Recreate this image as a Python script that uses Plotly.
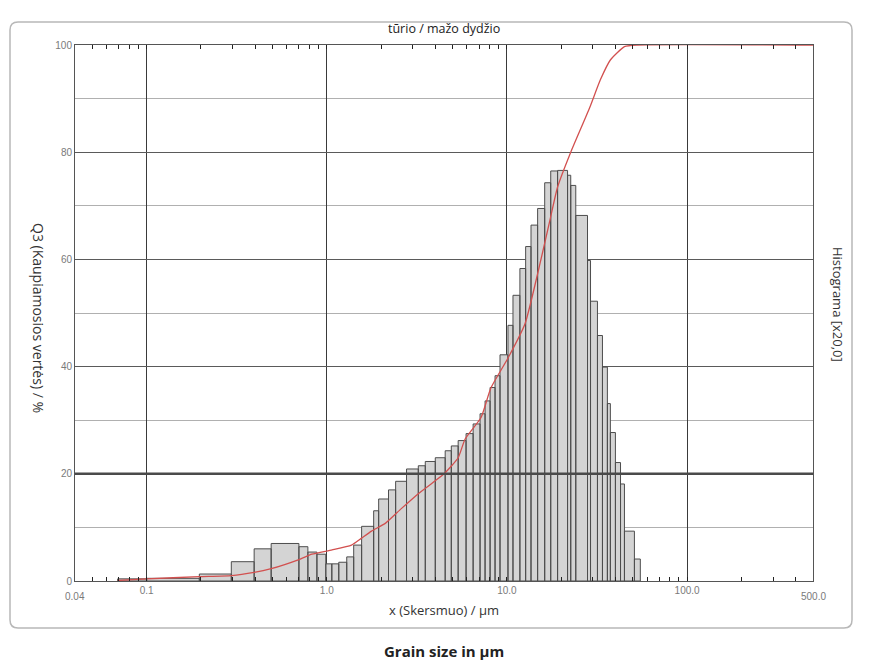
import math
import plotly.graph_objects as go

# ---------------- data ----------------
bin_edges = [0.069, 0.1, 0.196, 0.295, 0.395, 0.491, 0.700, 0.785, 0.881, 0.987,
             1.066, 1.165, 1.29, 1.41, 1.56, 1.82, 1.94, 2.20, 2.41, 2.77,
             3.22, 3.52, 4.00, 4.54, 4.91, 5.36, 5.93, 6.49, 7.09, 7.56,
             8.06, 8.59, 9.15, 10.13, 10.8, 11.8, 12.7, 13.6, 14.8, 16.2,
             17.5, 19.1, 21.7, 22.6, 24.1, 28.0, 29.1, 31.8, 33.9, 36.1,
             37.5, 40.0, 42.7, 44.9, 51.0, 55.0]
hist_values = [0.4, 0.5, 1.3, 3.6, 6.0, 7.0, 6.4, 5.4, 5.0, 3.2,
               3.2, 3.5, 4.5, 6.7, 10.2, 13.1, 15.3, 17.0, 18.6, 20.9,
               21.5, 22.3, 23.0, 24.3, 25.2, 26.2, 27.5, 29.3, 31.2, 33.6,
               36.1, 38.3, 42.2, 47.7, 53.3, 58.3, 62.4, 66.4, 69.5, 74.3,
               76.5, 76.6, 75.7, 73.8, 68.2, 59.8, 52.2, 45.8, 39.9, 33.1,
               27.7, 22.1, 18.1, 9.3, 4.1]

cum_size = [0.069, 0.1, 0.196, 0.295, 0.395, 0.491, 0.70, 0.826, 1.07, 1.37,
            1.56, 1.77, 2.12, 2.59, 3.22, 4.00, 4.54, 5.36, 5.86, 7.18,
            8.14, 10.1, 12.6, 15.4, 17.5, 19.1, 22.6, 28.7, 33.0, 37.5,
            44.9, 52.8, 500]
cum_q3 = [0.1, 0.4, 0.8, 1.0, 1.6, 2.3, 4.0, 5.0, 5.8, 6.7,
          8.0, 9.3, 10.8, 13.5, 16.3, 18.7, 20.2, 23.0, 26.5, 30.5,
          36.0, 41.5, 48.0, 59.8, 68.0, 73.5, 80.0, 88.2, 93.5, 97.2,
          99.7, 100, 100]

x_range = [0.04, 500]
x_tick_vals = [0.1, 1, 10, 100]
x_tick_text = ["0.1", "1.0", "10.0", "100.0"]
x_edge_labels = ["0.04", "500.0"]
y_range = [0, 100]
y_tick_vals = [0, 20, 40, 60, 80, 100]
y_tick_text = ["0", "20", "40", "60", "80", "100"]
highlight_y = 20

title_text = "tūrio / mažo dydžio"
x_title = "x (Skersmuo) / µm"
y_title_left = "Q3 (Kaupiamosios vertės) / %"
y_title_right = "Histograma [x20,0]"
caption = "<b>Grain size in µm</b>"

# ---------------- layout geometry ----------------
# The page body has an 8px default margin, so the figure is drawn 8px smaller
# and every screen position below is shifted by that offset.
OFF = 8
W, H = 869 - OFF, 664 - OFF
L, R, T, B = 75 - OFF, 813 - OFF, 45 - OFF, 581 - OFF


def px_x(p):
    """screen x (reference pixels) -> paper x"""
    return (p - OFF - L) / (R - L)


def px_y(p):
    """screen y (reference pixels) -> paper y"""
    return (B - (p - OFF)) / (B - T)


# ---------------- traces ----------------
hx, hy = [], []
for i, h in enumerate(hist_values):
    left, right = bin_edges[i], bin_edges[i + 1]
    hx += [left, left, right, right, left, None]
    hy += [0, h, h, 0, 0, None]

fig = go.Figure()
fig.add_trace(go.Scatter(
    x=hx, y=hy, mode="lines", fill="toself", fillcolor="#d4d4d4",
    line=dict(color="#4d4d4d", width=1), hoverinfo="skip", showlegend=False))
fig.add_trace(go.Scatter(
    x=cum_size, y=cum_q3, mode="lines",
    line=dict(color="#d2504f", width=1.3, shape="spline", smoothing=0.5),
    showlegend=False))

# ---------------- frame ----------------
x0, x1 = px_x(10), px_x(852)
top, bot = px_y(22), px_y(628)
rx, ry = 8 / (R - L), 8 / (B - T)
frame_path = (f"M {x0+rx},{top} L {x1-rx},{top} Q {x1},{top} {x1},{top-ry} "
              f"L {x1},{bot+ry} Q {x1},{bot} {x1-rx},{bot} L {x0+rx},{bot} "
              f"Q {x0},{bot} {x0},{bot+ry} L {x0},{top-ry} Q {x0},{top} {x0+rx},{top} Z")

shapes = [
    dict(type="path", path=frame_path, xref="paper", yref="paper",
         line=dict(color="#b8b8b8", width=1.5), layer="below"),
    dict(type="line", xref="paper", yref="y", x0=0, x1=1,
         y0=highlight_y, y1=highlight_y, line=dict(color="#4a4a4a", width=2.5),
         layer="above"),
]

tick_font = dict(family="Liberation Sans, Arial", size=10, color="#7a7a7a")
label_font = dict(family="Open Sans, Noto Sans", size=13, color="#333333")

annotations = [
    dict(text=title_text, xref="paper", yref="paper", x=0.5, y=px_y(29),
         showarrow=False, xanchor="center", yanchor="middle",
         font=dict(family="Open Sans, Noto Sans", size=12.5, color="#222222")),
    dict(text=x_title, xref="paper", yref="paper", x=0.5, y=px_y(610),
         showarrow=False, xanchor="center", yanchor="middle", font=label_font),
    dict(text=y_title_left, xref="paper", yref="paper", x=px_x(38), y=px_y(318),
         showarrow=False, textangle=90, xanchor="center", yanchor="middle",
         font=dict(family="Open Sans, Noto Sans", size=14, color="#333333")),
    dict(text=y_title_right, xref="paper", yref="paper", x=px_x(838), y=px_y(305),
         showarrow=False, textangle=90, xanchor="center", yanchor="middle",
         font=label_font),
    dict(text=caption, xref="paper", yref="paper", x=0.5, y=px_y(651),
         showarrow=False, xanchor="center", yanchor="middle",
         font=dict(family="Open Sans, Noto Sans", size=15, color="#222222")),
    dict(text=x_edge_labels[0], xref="x", yref="paper", x=math.log10(x_range[0]),
         y=px_y(596), showarrow=False, xanchor="center", yanchor="middle",
         font=tick_font),
    dict(text=x_edge_labels[1], xref="x", yref="paper", x=math.log10(x_range[1]),
         y=px_y(596), showarrow=False, xanchor="center", yanchor="middle",
         font=tick_font),
]

fig.update_layout(
    width=W, height=H, autosize=False,
    margin=dict(l=L, r=W - R, t=T, b=H - B, pad=0),
    paper_bgcolor="white", plot_bgcolor="white",
    shapes=shapes, annotations=annotations,
    xaxis=dict(
        type="log", range=[math.log10(x_range[0]), math.log10(x_range[1])],
        tickmode="array", tickvals=x_tick_vals, ticktext=x_tick_text,
        showgrid=True, gridcolor="#3a3a3a", gridwidth=1,
        showline=True, linecolor="#555555", linewidth=1, mirror="allticks",
        ticks="inside", ticklen=4, tickcolor="#222222",
        minor=dict(tickmode="linear", dtick="D1", ticks="inside", ticklen=4,
                   tickcolor="#222222", showgrid=False),
        tickfont=tick_font, zeroline=False),
    yaxis=dict(
        range=y_range, tickmode="array", tickvals=y_tick_vals, ticktext=y_tick_text,
        showgrid=True, gridcolor="#5a5a5a", gridwidth=1,
        minor=dict(dtick=10, showgrid=True, gridcolor="#b0b0b0", gridwidth=1),
        showline=True, linecolor="#555555", linewidth=1, mirror=True,
        ticks="", tickfont=tick_font, zeroline=False),
)

fig.write_html("out.html")
